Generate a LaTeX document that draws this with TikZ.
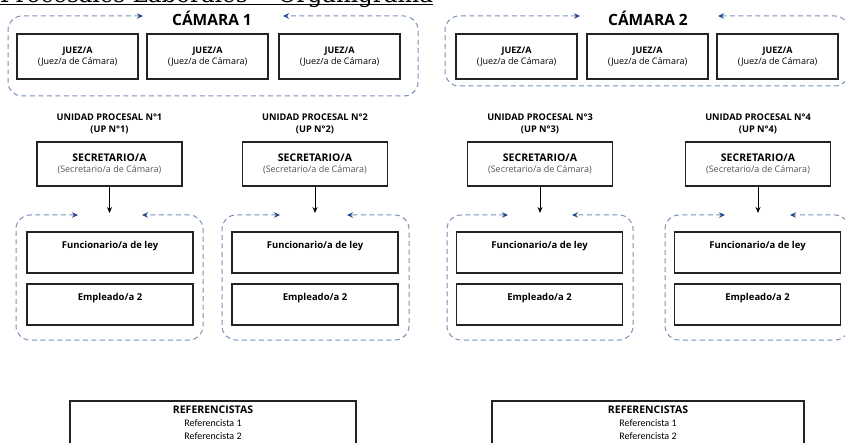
\documentclass[tikz,border=0pt]{standalone}
\usepackage{fontspec}
\setmainfont{Open Sans}
\newfontfamily\titlefont{DejaVu Serif}
\newfontfamily\reffont{Carlito}
\usetikzlibrary{arrows.meta}
\definecolor{dashblue}{RGB}{120,145,185}
\definecolor{tipblue}{RGB}{35,75,135}
\definecolor{boxline}{RGB}{35,35,35}
\definecolor{subgray}{RGB}{85,85,85}
\begin{document}
\begin{tikzpicture}[x=1pt,y=-1pt,
  box/.style={draw=boxline, line width=1.1pt, inner sep=0pt, align=center, minimum width=#1},
  jbox/.style={box=121pt, minimum height=45pt, font=\fontsize{9}{11.5}\selectfont},
  sbox/.style={box=145pt, minimum height=44pt, font=\fontsize{9}{12}\selectfont},
  fbox/.style={box=166pt, minimum height=41pt},
  ftext/.style={font=\fontsize{9.5}{11}\selectfont\bfseries, inner sep=0pt},
  uplabel/.style={font=\fontsize{9.2}{12}\selectfont\bfseries, align=center, inner sep=0pt},
  camtitle/.style={font=\fontsize{15.5}{17}\selectfont\bfseries, inner sep=0pt},
  frame/.style={draw=dashblue, line width=1pt, dash pattern=on 5pt off 3.5pt, rounded corners=14pt,
    {Stealth[length=6pt,width=5.5pt,color=tipblue]}-{Stealth[length=6pt,width=5.5pt,color=tipblue]}},
  down/.style={draw=black, line width=1pt, -{Stealth[length=6pt,width=5pt]}},
  refbox/.style={draw=boxline, line width=1.1pt, inner sep=0pt},
  reftext/.style={font=\reffont\fontsize{10}{13}\selectfont, align=center, inner sep=0pt}
]
\useasboundingbox (0,0) rectangle (845,443);
\clip (0,0) rectangle (845,443);

% title (cut off at top)
\node[anchor=base west, inner sep=0pt, font=\titlefont\fontsize{23}{25}\selectfont] (title) at (0,2.5) {Procesales Laborales -- Organigrama};
\draw[line width=1pt] (title.base west) ++(0,2.5) coordinate (ulA) -- (title.base east |- ulA);

% ---------- CAMARA 1 ----------
\node[camtitle] (cam1) at (212,18) {CÁMARA 1};
\draw[frame] (143,16) -- (8,16) -- (8,96) -- (418,96) -- (418,16) -- (283,16);
\node[jbox] (j11) at (77.5,56.5) {\textbf{JUEZ/A}\\(Juez/a de Cámara)};
\node[jbox] (j12) at (207.5,56.5) {\textbf{JUEZ/A}\\(Juez/a de Cámara)};
\node[jbox] (j13) at (339.5,56.5) {\textbf{JUEZ/A}\\(Juez/a de Cámara)};

% ---------- CAMARA 2 ----------
\node[camtitle] (cam2) at (648,18) {CÁMARA 2};
\draw[frame] (580,16) -- (445,16) -- (445,86) -- (849,86) -- (849,16) -- (718,16);
\node[jbox] (j21) at (516.5,56.5) {\textbf{JUEZ/A}\\(Juez/a de Cámara)};
\node[jbox] (j22) at (647.5,56.5) {\textbf{JUEZ/A}\\(Juez/a de Cámara)};
\node[jbox] (j23) at (777.5,56.5) {\textbf{JUEZ/A}\\(Juez/a de Cámara)};

% ---------- Unidades procesales ----------
\foreach \n/\cx/\fx/\gl/\gr/\tl/\tr in {1/109.5/110/16/203/78/142, 2/315/315/222/409/280/347, 3/540/539.5/447/633/508/572, 4/758/757.5/665/849/725/790}{
  \node[uplabel] (up\n) at (\cx,124) {UNIDAD PROCESAL N°\n\\(UP N°\n)};
  \node[sbox] (sec\n) at (\cx,164) {{\fontsize{10.5}{12}\selectfont\bfseries SECRETARIO/A}\\[-1pt]\textcolor{subgray}{(Secretario/a de Cámara)}};
  \coordinate (g\n) at (\cx,213);
  \draw[down] (sec\n.south) -- (g\n);
  \draw[frame] (\tl,215) -- (\gl,215) -- (\gl,340) -- (\gr,340) -- (\gr,215) -- (\tr,215);
  \node[fbox] (fun\n) at (\fx,252.5) {};
  \node[ftext] (funt\n) at ([yshift=-15pt]fun\n.north) {Funcionario/a de ley};
  \node[fbox] (emp\n) at (\fx,304.5) {};
  \node[ftext] (empt\n) at ([yshift=-15pt]emp\n.north) {Empleado/a 2};
}

% ---------- Referencistas ----------
\draw[refbox] (70,401) rectangle (356,470);
\node[reftext] (ref1) at (213,423) {{\rmfamily\fontsize{10.5}{13}\selectfont\bfseries REFERENCISTAS}\\Referencista 1\\Referencista 2};
\draw[refbox] (492,401) rectangle (804,470);
\node[reftext] (ref2) at (648,423) {{\rmfamily\fontsize{10.5}{13}\selectfont\bfseries REFERENCISTAS}\\Referencista 1\\Referencista 2};
\end{tikzpicture}
\end{document}
